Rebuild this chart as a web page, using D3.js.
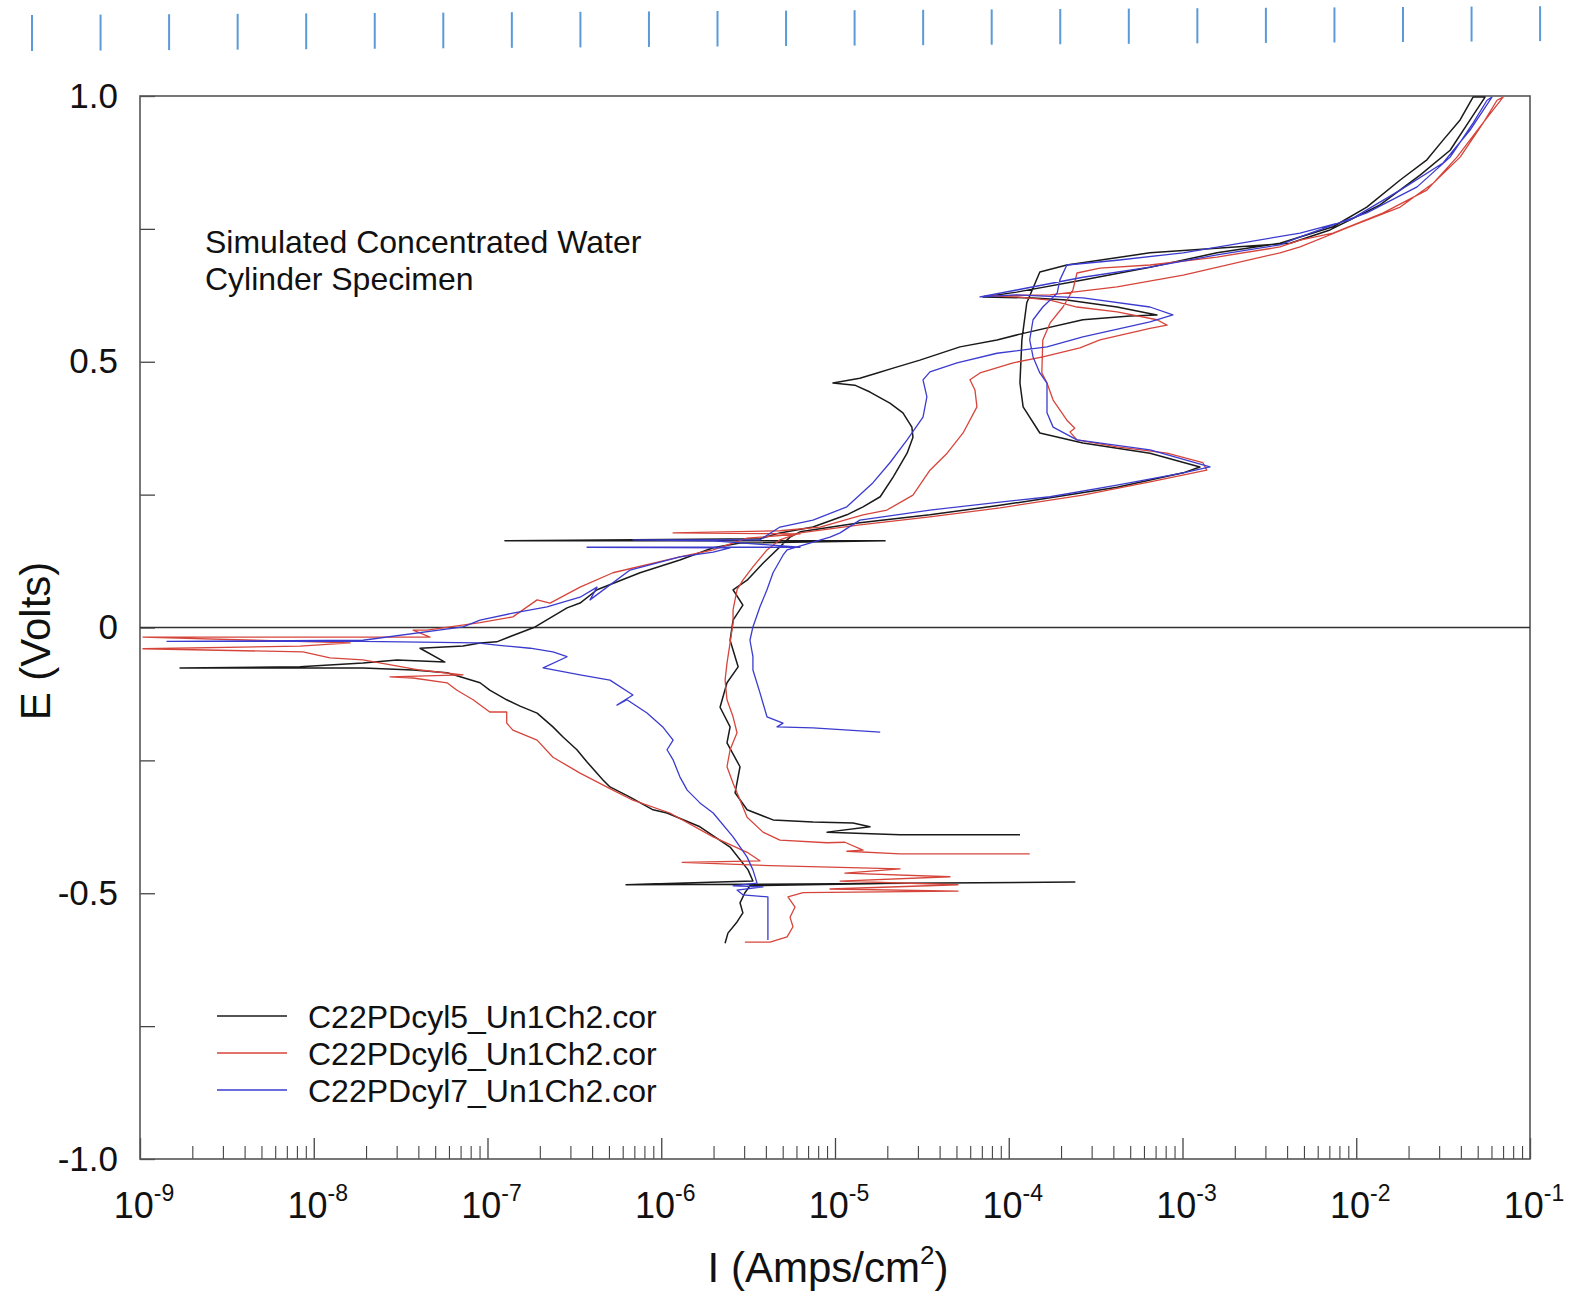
<!DOCTYPE html>
<html>
<head>
<meta charset="utf-8">
<script src="https://cdn.jsdelivr.net/npm/d3@7"></script>
<style>
  html, body { margin: 0; padding: 0; background: #fff; }
  svg { display: block; font-family: "Liberation Sans", Arial, sans-serif; }
</style>
</head>
<body>
<svg id="chart" width="1571" height="1298"></svg>
<script>
// Potentiodynamic polarization scans: [current density (A/cm²), potential (V)]
const seriesNames = ["C22PDcyl5_Un1Ch2.cor", "C22PDcyl6_Un1Ch2.cor", "C22PDcyl7_Un1Ch2.cor"];
const seriesColors = ["#1a1a1a", "#d6453b", "#3b3bcf"];

const cyl5 = [[2.33e-6,-0.594],[2.42e-6,-0.575],[2.73e-6,-0.554],[2.95e-6,-0.537],[2.84e-6,-0.518],[3.03e-6,-0.499],[3.24e-6,-0.486],[2.37e-5,-0.481],[2.40e-4,-0.479],[3.70e-6,-0.483],[6.27e-7,-0.484],[3.37e-6,-0.477],[3.16e-6,-0.456],[2.49e-6,-0.413],[1.67e-6,-0.375],[1.08e-6,-0.349],[8.97e-7,-0.343],[6.61e-7,-0.319],[5.07e-7,-0.300],[4.62e-7,-0.287],[3.74e-7,-0.253],[3.27e-7,-0.230],[2.72e-7,-0.206],[2.38e-7,-0.187],[1.93e-7,-0.161],[1.54e-7,-0.148],[1.29e-7,-0.136],[1.03e-7,-0.118],[9.06e-8,-0.104],[5.85e-8,-0.085],[3.73e-8,-0.080],[1.92e-8,-0.076],[4.30e-9,-0.076],[1.70e-9,-0.076],[8.33e-9,-0.074],[1.92e-8,-0.067],[3.01e-8,-0.061],[5.69e-8,-0.065],[4.09e-8,-0.039],[7.23e-8,-0.035],[9.06e-8,-0.029],[1.13e-7,-0.027],[1.40e-7,-0.015],[1.88e-7,0.001],[2.87e-7,0.037],[3.41e-7,0.046],[4.27e-7,0.071],[7.55e-7,0.103],[1.28e-6,0.127],[1.99e-6,0.150],[2.84e-6,0.159],[1.94e-5,0.163],[1.26e-7,0.163],[3.70e-6,0.167],[4.82e-6,0.178],[7.47e-6,0.189],[1.17e-5,0.212],[1.45e-5,0.227],[1.82e-5,0.246],[2.16e-5,0.283],[2.60e-5,0.328],[2.81e-5,0.358],[2.77e-5,0.377],[2.46e-5,0.404],[2.07e-5,0.422],[1.59e-5,0.443],[1.30e-5,0.456],[9.73e-6,0.460],[1.39e-5,0.469],[1.75e-5,0.479],[2.16e-5,0.488],[3.08e-5,0.503],[5.24e-5,0.528],[8.56e-5,0.541],[1.16e-4,0.552],[2.67e-4,0.579],[4.99e-4,0.586],[7.13e-4,0.588],[4.20e-4,0.603],[2.16e-4,0.616],[1.38e-4,0.620],[7.11e-5,0.622],[1.11e-4,0.631],[2.67e-4,0.654],[6.50e-4,0.678],[1.58e-3,0.705],[3.64e-3,0.723],[7.35e-3,0.754],[1.15e-2,0.791],[1.79e-2,0.842],[2.55e-2,0.880],[3.16e-2,0.917],[3.96e-2,0.955],[4.70e-2,0.998],[5.51e-2,0.998],[4.52e-2,0.955],[3.47e-2,0.898],[2.33e-2,0.851],[1.37e-2,0.795],[7.06e-3,0.748],[4.16e-3,0.723],[6.50e-4,0.705],[2.16e-4,0.682],[1.51e-4,0.669],[1.27e-4,0.611],[1.19e-4,0.541],[1.16e-4,0.460],[1.21e-4,0.415],[1.51e-4,0.366],[2.67e-4,0.347],[6.50e-4,0.328],[1.26e-3,0.302],[1.01e-3,0.291],[4.20e-4,0.264],[1.73e-4,0.244],[8.91e-5,0.230],[3.52e-5,0.212],[1.39e-5,0.197],[6.29e-6,0.180],[5.51e-6,0.170],[3.85e-6,0.121],[3.12e-6,0.089],[2.59e-6,0.071],[2.95e-6,0.042],[2.59e-6,0.014],[2.49e-6,-0.024],[2.77e-6,-0.074],[2.39e-6,-0.104],[2.18e-6,-0.150],[2.49e-6,-0.187],[2.39e-6,-0.217],[2.84e-6,-0.262],[2.66e-6,-0.311],[3.12e-6,-0.343],[4.40e-6,-0.362],[7.47e-6,-0.366],[1.27e-5,-0.368],[1.59e-5,-0.375],[9.00e-6,-0.385],[2.37e-5,-0.390],[1.16e-4,-0.390]];

const cyl6 = [[3.03e-6,-0.592],[4.23e-6,-0.592],[5.30e-6,-0.582],[5.73e-6,-0.563],[5.51e-6,-0.545],[5.89e-6,-0.526],[5.36e-6,-0.507],[6.55e-6,-0.499],[5.10e-5,-0.496],[9.36e-6,-0.492],[5.10e-5,-0.484],[1.07e-5,-0.477],[4.59e-5,-0.469],[1.14e-5,-0.462],[2.37e-5,-0.454],[4.23e-6,-0.448],[1.32e-6,-0.442],[3.70e-6,-0.439],[3.12e-6,-0.423],[1.99e-6,-0.394],[1.12e-6,-0.349],[6.87e-7,-0.325],[5.27e-7,-0.306],[3.41e-7,-0.274],[2.38e-7,-0.244],[1.93e-7,-0.212],[1.40e-7,-0.193],[1.29e-7,-0.180],[1.29e-7,-0.159],[1.03e-7,-0.159],[8.26e-8,-0.136],[6.67e-8,-0.118],[5.85e-8,-0.104],[3.73e-8,-0.095],[2.75e-8,-0.093],[7.23e-8,-0.089],[4.09e-8,-0.080],[1.92e-8,-0.061],[1.24e-8,-0.057],[8.67e-9,-0.046],[1.04e-9,-0.040],[8.33e-9,-0.035],[1.62e-8,-0.029],[1.04e-9,-0.018],[4.67e-8,-0.018],[3.73e-8,-0.005],[4.49e-8,-0.005],[9.06e-8,0.009],[1.40e-7,0.020],[1.93e-7,0.052],[2.29e-7,0.046],[3.41e-7,0.076],[5.27e-7,0.103],[1.28e-6,0.133],[1.99e-6,0.146],[3.12e-6,0.168],[6.29e-6,0.176],[1.17e-6,0.178],[4.82e-6,0.182],[8.20e-6,0.189],[1.45e-5,0.212],[1.99e-5,0.221],[2.81e-5,0.249],[3.52e-5,0.296],[4.42e-5,0.328],[5.46e-5,0.366],[6.56e-5,0.415],[6.39e-5,0.447],[5.98e-5,0.466],[6.83e-5,0.479],[1.06e-4,0.498],[1.57e-4,0.509],[2.57e-4,0.526],[3.35e-4,0.541],[6.50e-4,0.563],[8.15e-4,0.569],[7.13e-4,0.579],[4.20e-4,0.594],[2.47e-4,0.603],[1.73e-4,0.616],[1.11e-4,0.622],[7.30e-5,0.624],[1.73e-4,0.626],[4.20e-4,0.641],[1.01e-3,0.663],[3.64e-3,0.705],[4.75e-3,0.716],[9.21e-3,0.754],[1.79e-2,0.791],[2.77e-2,0.836],[3.96e-2,0.885],[5.37e-2,0.949],[6.46e-2,0.992],[7.00e-2,0.998],[5.15e-2,0.942],[3.80e-2,0.885],[2.55e-2,0.823],[1.43e-2,0.780],[7.35e-3,0.742],[4.75e-3,0.729],[3.64e-3,0.716],[1.58e-3,0.697],[6.50e-4,0.682],[3.35e-4,0.676],[2.47e-4,0.667],[2.34e-4,0.635],[2.05e-4,0.603],[1.73e-4,0.573],[1.57e-4,0.541],[1.55e-4,0.479],[1.66e-4,0.460],[1.80e-4,0.428],[2.16e-4,0.390],[2.40e-4,0.375],[2.25e-4,0.368],[2.47e-4,0.353],[4.20e-4,0.340],[8.15e-4,0.328],[1.31e-3,0.310],[1.38e-3,0.296],[6.50e-4,0.274],[2.67e-4,0.249],[8.91e-5,0.225],[3.52e-5,0.208],[1.39e-5,0.193],[6.29e-6,0.178],[4.82e-6,0.165],[4.06e-6,0.146],[3.37e-6,0.114],[2.95e-6,0.089],[2.73e-6,0.071],[2.59e-6,0.033],[2.59e-6,0.009],[2.49e-6,-0.029],[2.39e-6,-0.067],[2.33e-6,-0.099],[2.39e-6,-0.136],[2.59e-6,-0.168],[2.73e-6,-0.198],[2.49e-6,-0.230],[2.39e-6,-0.262],[2.59e-6,-0.293],[2.73e-6,-0.311],[3.12e-6,-0.357],[3.85e-6,-0.385],[4.82e-6,-0.400],[9.00e-6,-0.405],[1.14e-5,-0.404],[1.45e-5,-0.419],[1.17e-5,-0.421],[2.37e-5,-0.426],[1.32e-4,-0.426]];

const cyl7 = [[4.11e-6,-0.588],[4.11e-6,-0.550],[4.11e-6,-0.507],[2.95e-6,-0.503],[2.73e-6,-0.494],[3.85e-6,-0.488],[2.59e-6,-0.486],[3.56e-6,-0.481],[3.37e-6,-0.456],[3.12e-6,-0.432],[2.59e-6,-0.394],[1.99e-6,-0.349],[1.67e-6,-0.330],[1.41e-6,-0.306],[1.28e-6,-0.281],[1.17e-6,-0.249],[1.08e-6,-0.230],[1.17e-6,-0.212],[1.02e-6,-0.187],[8.28e-7,-0.161],[6.35e-7,-0.136],[5.56e-7,-0.146],[6.87e-7,-0.127],[5.07e-7,-0.099],[3.41e-7,-0.089],[2.09e-7,-0.076],[2.87e-7,-0.055],[2.38e-7,-0.046],[1.76e-7,-0.039],[1.13e-7,-0.033],[8.71e-8,-0.029],[1.92e-8,-0.026],[1.43e-9,-0.026],[1.92e-8,-0.024],[7.23e-8,0.001],[9.06e-8,0.014],[1.40e-7,0.027],[2.20e-7,0.039],[3.41e-7,0.057],[4.27e-7,0.076],[3.89e-7,0.052],[6.61e-7,0.108],[1.28e-6,0.133],[1.99e-6,0.142],[2.49e-6,0.150],[3.74e-7,0.151],[6.29e-6,0.151],[1.99e-6,0.163],[6.87e-7,0.165],[3.70e-6,0.165],[4.82e-6,0.189],[7.47e-6,0.202],[1.17e-5,0.227],[1.65e-5,0.272],[2.07e-5,0.310],[2.60e-5,0.353],[3.21e-5,0.396],[3.38e-5,0.434],[3.21e-5,0.466],[3.52e-5,0.481],[5.04e-5,0.498],[8.56e-5,0.516],[1.66e-4,0.528],[2.67e-4,0.547],[6.50e-4,0.575],[8.81e-4,0.588],[6.50e-4,0.603],[2.67e-4,0.620],[1.11e-4,0.626],[6.83e-5,0.622],[1.11e-4,0.635],[2.67e-4,0.659],[6.50e-4,0.678],[1.58e-3,0.701],[3.64e-3,0.720],[4.75e-3,0.735],[1.15e-2,0.780],[2.24e-2,0.829],[3.47e-2,0.885],[4.70e-2,0.949],[5.66e-2,0.992],[6.04e-2,0.998],[4.52e-2,0.936],[3.16e-2,0.874],[1.79e-2,0.823],[9.21e-3,0.767],[4.75e-3,0.742],[1.01e-3,0.705],[4.20e-4,0.691],[2.16e-4,0.682],[1.97e-4,0.654],[1.90e-4,0.629],[1.57e-4,0.603],[1.38e-4,0.579],[1.32e-4,0.541],[1.38e-4,0.509],[1.51e-4,0.479],[1.66e-4,0.460],[1.66e-4,0.404],[1.80e-4,0.377],[2.47e-4,0.353],[6.50e-4,0.334],[1.44e-3,0.302],[1.01e-3,0.291],[4.20e-4,0.268],[1.73e-4,0.246],[8.91e-5,0.236],[3.52e-5,0.221],[1.39e-5,0.202],[1.07e-5,0.178],[9.36e-6,0.170],[5.30e-6,0.146],[5.02e-6,0.136],[4.40e-6,0.103],[4.06e-6,0.071],[3.70e-6,0.039],[3.37e-6,0.001],[3.24e-6,-0.024],[3.37e-6,-0.055],[3.37e-6,-0.080],[3.70e-6,-0.123],[4.06e-6,-0.168],[5.02e-6,-0.180],[4.64e-6,-0.187],[7.47e-6,-0.189],[1.82e-5,-0.197]];

const seriesData = [cyl5, cyl6, cyl7];

// Axis ticks and labels
const potentialTicks = [-1, -0.5, 0, 0.5, 1];
const potentialTickLabels = ["-1.0", "-0.5", "0", "0.5", "1.0"];
const potentialMinorTicks = [-0.75, -0.25, 0.25, 0.75];
const currentDecades = [-9, -8, -7, -6, -5, -4, -3, -2, -1];
const noteLines = ["Simulated Concentrated Water", "Cylinder Specimen"];

const svg = d3.select("#chart");
const plot = { left: 140, right: 1530, top: 96, bottom: 1159 };

const x = d3.scaleLog().domain([1e-9, 1e-1]).range([plot.left, plot.right]);
const y = d3.scaleLinear().domain([-1, 1]).range([plot.bottom, plot.top]);

// Blue ruler marks along the top edge of the sheet
const ruler = svg.append("g").attr("stroke", "#5a9ad8").attr("stroke-width", 2);
d3.range(23).forEach(i => {
  const rx = 32 + i * 68.55;
  ruler.append("line")
    .attr("x1", rx).attr("x2", rx)
    .attr("y1", 15 - i * 0.4).attr("y2", 51 - i * 0.45);
});

// Clip for the curves
svg.append("defs").append("clipPath").attr("id", "plotClip")
  .append("rect")
  .attr("x", plot.left).attr("y", plot.top - 2)
  .attr("width", plot.right - plot.left).attr("height", plot.bottom - plot.top + 2);

// Left axis: major and minor ticks pointing inward
const yAxisMajor = d3.axisLeft(y).tickValues(potentialTicks)
  .tickSize(-15).tickSizeOuter(0).tickPadding(22)
  .tickFormat((d, i) => potentialTickLabels[i]);
const gy = svg.append("g").attr("transform", `translate(${plot.left},0)`).call(yAxisMajor);
gy.select(".domain").remove();
gy.selectAll("line").attr("stroke", "#444").attr("stroke-width", 1.3);
gy.selectAll("text").attr("font-size", 35).attr("fill", "#111")
  .attr("font-family", "'Liberation Sans', Arial, sans-serif");

const yAxisMinor = d3.axisLeft(y).tickValues(potentialMinorTicks)
  .tickSize(-15).tickSizeOuter(0).tickFormat("");
const gy2 = svg.append("g").attr("transform", `translate(${plot.left},0)`).call(yAxisMinor);
gy2.select(".domain").remove();
gy2.selectAll("line").attr("stroke", "#444").attr("stroke-width", 1.3);

// Bottom axis: decades and intermediate ticks pointing inward
const decadeValues = currentDecades.map(p => Math.pow(10, p));
const minorValues = [];
currentDecades.slice(0, -1).forEach(p => {
  for (let m = 2; m <= 9; m++) minorValues.push(m * Math.pow(10, p));
});

const xAxisMajor = d3.axisBottom(x).tickValues(decadeValues).tickSize(-21).tickSizeOuter(0).tickFormat("");
const gx = svg.append("g").attr("transform", `translate(0,${plot.bottom})`).call(xAxisMajor);
gx.select(".domain").remove();
gx.selectAll("line").attr("stroke", "#444").attr("stroke-width", 1.3);

const xAxisMinor = d3.axisBottom(x).tickValues(minorValues).tickSize(-13).tickSizeOuter(0).tickFormat("");
const gx2 = svg.append("g").attr("transform", `translate(0,${plot.bottom})`).call(xAxisMinor);
gx2.select(".domain").remove();
gx2.selectAll("line").attr("stroke", "#444").attr("stroke-width", 1.1);

// Decade labels as 10 with a superscript exponent
const xLabels = svg.append("g").attr("font-size", 36).attr("fill", "#111");
currentDecades.forEach(p => {
  const t = xLabels.append("text")
    .attr("x", x(Math.pow(10, p)) + 4).attr("y", plot.bottom + 59)
    .attr("text-anchor", "middle");
  t.append("tspan").text("10");
  t.append("tspan").attr("font-size", 23).attr("dy", -17).text(String(p));
});

// Plot frame
svg.append("rect")
  .attr("x", plot.left).attr("y", plot.top)
  .attr("width", plot.right - plot.left).attr("height", plot.bottom - plot.top)
  .attr("fill", "none").attr("stroke", "#555").attr("stroke-width", 1.6);

// Reference line at 0 V
svg.append("line")
  .attr("x1", x(1e-9)).attr("x2", x(1e-1))
  .attr("y1", y(0)).attr("y2", y(0))
  .attr("stroke", "#333").attr("stroke-width", 1.4);

// Curves
const line = d3.line().x(d => x(d[0])).y(d => y(d[1]));
const curves = svg.append("g").attr("clip-path", "url(#plotClip)");
seriesData.forEach((data, i) => {
  curves.append("path")
    .datum(data)
    .attr("d", line)
    .attr("fill", "none")
    .attr("stroke", seriesColors[i])
    .attr("stroke-width", i === 0 ? 1.5 : 1.3)
    .attr("stroke-linejoin", "round");
});

// Annotation
const note = svg.append("g").attr("font-size", 32).attr("fill", "#111");
noteLines.forEach((s, i) => {
  note.append("text").attr("x", 205).attr("y", 253 + i * 37).text(s);
});

// Legend
const legend = svg.append("g");
seriesNames.forEach((name, i) => {
  const ly = 1016 + i * 37;
  legend.append("line")
    .attr("x1", 217).attr("x2", 287).attr("y1", ly).attr("y2", ly)
    .attr("stroke", seriesColors[i]).attr("stroke-width", 1.5);
  legend.append("text")
    .attr("x", 308).attr("y", ly + 12)
    .attr("font-size", 32).attr("fill", "#111").text(name);
});

// Axis titles
const xTitle = svg.append("text")
  .attr("x", 828).attr("y", 1282)
  .attr("text-anchor", "middle").attr("font-size", 42).attr("fill", "#111");
xTitle.append("tspan").text("I (Amps/cm");
xTitle.append("tspan").attr("font-size", 26).attr("dy", -18).text("2");
xTitle.append("tspan").attr("dy", 18).text(")");

svg.append("text")
  .attr("transform", `translate(50,641) rotate(-90)`)
  .attr("text-anchor", "middle").attr("font-size", 42).attr("fill", "#111")
  .text("E (Volts)");
</script>
</body>
</html>
